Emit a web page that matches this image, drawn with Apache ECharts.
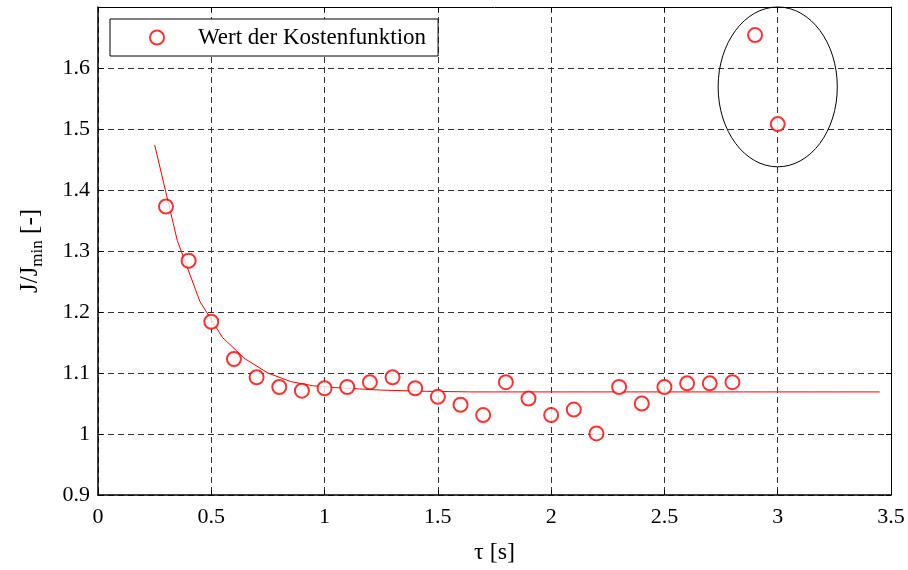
<!DOCTYPE html>
<html>
<head>
<meta charset="utf-8">
<script src="https://cdn.jsdelivr.net/npm/echarts@6/dist/echarts.min.js"></script>
<style>
  html, body { margin: 0; padding: 0; background: #fff; }
  #chart { width: 908px; height: 570px; }
</style>
</head>
<body>
<div id="chart"></div>
<script>
// Messpunkte: tau [s] und J/Jmin
const tauPoints = [0.3, 0.4, 0.5, 0.6, 0.7, 0.8, 0.9, 1.0, 1.1, 1.2, 1.3, 1.4, 1.5, 1.6, 1.7,
  1.8, 1.9, 2.0, 2.1, 2.2, 2.3, 2.4, 2.5, 2.6, 2.7, 2.8, 2.9, 3.0];
const costValues = [1.373, 1.284, 1.184, 1.123, 1.093, 1.077, 1.071, 1.075, 1.077, 1.085, 1.093, 1.075, 1.061, 1.048, 1.031,
  1.085, 1.058, 1.031, 1.040, 1.001, 1.077, 1.050, 1.077, 1.083, 1.083, 1.085, 1.654, 1.508];

// Ausgleichskurve
const tauFit = [0.25, 0.35, 0.45, 0.55, 0.65, 0.75, 0.85, 0.95, 1.05, 1.15, 1.25, 1.35, 1.45, 1.55,
  1.65, 1.75, 1.85, 1.95, 2.05, 2.15, 2.25, 2.35, 2.45, 2.55, 2.65, 2.75, 2.85, 2.95, 3.05, 3.15, 3.25, 3.35, 3.45];
const fitValues = [1.474, 1.317, 1.217, 1.158, 1.123, 1.100, 1.086, 1.079, 1.076, 1.074, 1.072, 1.071, 1.070, 1.0695,
  1.069, 1.069, 1.069, 1.069, 1.069, 1.069, 1.069, 1.069, 1.069, 1.069, 1.069, 1.069, 1.069, 1.069, 1.069, 1.069, 1.069, 1.069, 1.069];

// Ausreißer-Markierung (Mitte x, Mitte y, Halbachse x, Halbachse y)
const outlierEllipse = [[3.0, 1.569, 0.263, 0.131]];

const xTicks = { min: 0, max: 3.5, interval: 0.5 };
const yTicks = { min: 0.9, max: 1.7, interval: 0.1 };

const serif = "Liberation Serif";
const chart = echarts.init(document.getElementById("chart"));

const gridLine = { show: true, lineStyle: { color: "#333", type: [6, 4], width: 1 } };

const option = {
  animation: false,
  backgroundColor: "#fff",
  textStyle: { fontFamily: serif },
  grid: { left: 98, right: 17, top: 7, bottom: 70 },
  legend: {
    left: 110,
    top: 19,
    orient: "vertical",
    selectedMode: false,
    backgroundColor: "#fff",
    borderColor: "#000",
    borderWidth: 1,
    padding: [7, 12, 7, 39],
    itemWidth: 14,
    itemHeight: 14,
    textStyle: { fontFamily: serif, fontSize: 23, color: "#000", padding: [0, 0, 0, 29] },
    data: [{ name: "Wert der Kostenfunktion", icon: "emptyCircle" }]
  },
  xAxis: [
    {
      type: "value",
      min: xTicks.min, max: xTicks.max, interval: xTicks.interval,
      name: "τ [s]",
      nameLocation: "middle",
      nameGap: 46,
      nameTextStyle: { fontFamily: serif, fontSize: 24, color: "#000" },
      axisLine: { lineStyle: { color: "#000", width: 1.5 } },
      axisTick: { inside: true, length: 5, lineStyle: { color: "#000" } },
      axisLabel: { fontFamily: serif, fontSize: 22, color: "#000", margin: 11 },
      splitLine: gridLine
    },
    {
      type: "value",
      position: "top",
      min: xTicks.min, max: xTicks.max, interval: xTicks.interval,
      axisLine: { onZero: false, lineStyle: { color: "#000", width: 1 } },
      axisTick: { inside: true, length: 5, lineStyle: { color: "#000" } },
      axisLabel: { show: false },
      splitLine: { show: false }
    }
  ],
  yAxis: [
    {
      type: "value",
      min: yTicks.min, max: yTicks.max, interval: yTicks.interval,
      name: "J/J{sub|min} [-]",
      nameLocation: "middle",
      nameRotate: 90,
      nameGap: 52,
      nameTextStyle: {
        fontFamily: serif, fontSize: 25, color: "#000",
        rich: { sub: { fontFamily: serif, fontSize: 17, color: "#000", padding: [14, 0, 0, 0] } }
      },
      axisLine: { show: true, lineStyle: { color: "#000", width: 1.5 } },
      axisTick: { show: true, inside: true, length: 5, lineStyle: { color: "#000" } },
      axisLabel: { fontFamily: serif, fontSize: 22, color: "#000", margin: 8, showMaxLabel: false },
      splitLine: gridLine
    },
    {
      type: "value",
      position: "right",
      min: yTicks.min, max: yTicks.max, interval: yTicks.interval,
      axisLine: { show: true, onZero: false, lineStyle: { color: "#000", width: 1 } },
      axisTick: { show: true, inside: true, length: 5, lineStyle: { color: "#000" } },
      axisLabel: { show: false },
      splitLine: { show: false }
    }
  ],
  series: [
    {
      name: "Ausgleichskurve",
      type: "line",
      data: tauFit.map((t, i) => [t, fitValues[i]]),
      showSymbol: false,
      lineStyle: { color: "#ff0000", width: 1 },
      z: 3
    },
    {
      name: "Wert der Kostenfunktion",
      type: "scatter",
      data: tauPoints.map((t, i) => [t, costValues[i]]),
      symbol: "emptyCircle",
      symbolSize: 14,
      itemStyle: { color: "#ff0000", borderColor: "#ff0000", borderWidth: 1 },
      z: 4
    },
    {
      name: "Markierung",
      type: "custom",
      data: outlierEllipse,
      silent: true,
      renderItem: (params, api) => {
        const c = api.coord([api.value(0), api.value(1)]);
        const s = api.size([api.value(2), api.value(3)]);
        return {
          type: "ellipse",
          shape: { cx: c[0], cy: c[1], rx: s[0], ry: s[1] },
          style: { fill: "none", stroke: "#000", lineWidth: 1 }
        };
      },
      z: 2
    }
  ]
};

chart.setOption(option);
</script>
</body>
</html>
